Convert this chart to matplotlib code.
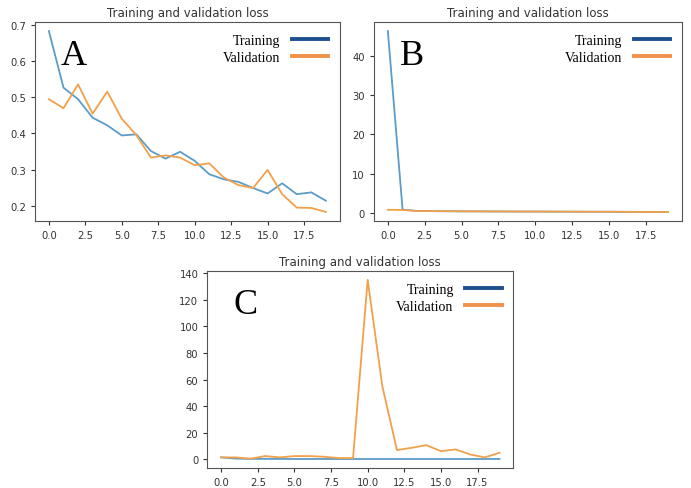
import matplotlib
matplotlib.use("Agg")
import matplotlib.pyplot as plt
from matplotlib.lines import Line2D

epochs = list(range(20))

train_a = [0.682, 0.526, 0.494, 0.443, 0.422, 0.394, 0.397, 0.351, 0.330, 0.349,
           0.324, 0.287, 0.273, 0.266, 0.249, 0.234, 0.262, 0.232, 0.237, 0.214]
val_a = [0.494, 0.469, 0.535, 0.454, 0.515, 0.440, 0.395, 0.333, 0.339, 0.333,
         0.312, 0.317, 0.278, 0.257, 0.249, 0.299, 0.232, 0.195, 0.194, 0.183]

train_b = [46.4, 0.8, 0.45, 0.42, 0.38, 0.36, 0.34, 0.33, 0.31, 0.30,
           0.29, 0.28, 0.27, 0.26, 0.25, 0.24, 0.23, 0.22, 0.21, 0.20]
val_b = [0.75, 0.7, 0.45, 0.42, 0.40, 0.37, 0.35, 0.33, 0.33, 0.31,
         0.32, 0.30, 0.28, 0.27, 0.26, 0.26, 0.24, 0.22, 0.21, 0.20]

train_c = [1.5, 0.6, 0.4, 0.4, 0.35, 0.3, 0.3, 0.3, 0.3, 0.3,
           0.3, 0.3, 0.3, 0.3, 0.3, 0.3, 0.3, 0.3, 0.3, 0.3]
val_c = [1.5, 1.5, 0.5, 2.5, 1.5, 2.5, 2.5, 2.0, 1.0, 1.0,
         135.0, 55.0, 7.0, 8.7, 10.7, 6.2, 7.5, 3.7, 1.5, 5.0]

panels = [
    ("A", train_a, val_a, [0.0507, 0.546, 0.441, 0.407], [0.2, 0.3, 0.4, 0.5, 0.6, 0.7]),
    ("B", train_b, val_b, [0.541, 0.546, 0.446, 0.407], [0, 10, 20, 30, 40]),
    ("C", train_c, val_c, [0.300, 0.041, 0.443, 0.403], [0, 20, 40, 60, 80, 100, 120, 140]),
]

line_blue = "#5b9cc9"
line_orange = "#f2a04a"
leg_blue = "#1d4f8e"
leg_orange = "#f0924a"

fig = plt.figure(figsize=(6.91, 4.89), dpi=100)

for letter, tr, va, pos, yt in panels:
    ax = fig.add_axes(pos)
    ax.plot(epochs, tr, color=line_blue, lw=1.3)
    ax.plot(epochs, va, color=line_orange, lw=1.3)
    ax.set_title("Training and validation loss", fontsize=8.5, color="#333333", pad=4)
    ax.set_xticks([0, 2.5, 5, 7.5, 10, 12.5, 15, 17.5])
    ax.set_yticks(yt)
    ax.tick_params(labelsize=7.2, colors="#333333", length=3)
    for s in ax.spines.values():
        s.set_color("#555555")
        s.set_linewidth(0.8)
    ax.text(0.085, 0.915, letter, transform=ax.transAxes, fontsize=26,
            family="Liberation Serif", va="top", ha="left")
    handles = [Line2D([], [], color=leg_blue, lw=2.8),
               Line2D([], [], color=leg_orange, lw=2.8)]
    ax.legend(handles, ["Training", "Validation"], loc="upper right",
              frameon=False, markerfirst=False, handlelength=2.6,
              prop={"family": "Liberation Serif", "size": 10},
              borderaxespad=0.45, labelspacing=0.3, handletextpad=0.85)

fig.savefig("out.png", dpi=100)
